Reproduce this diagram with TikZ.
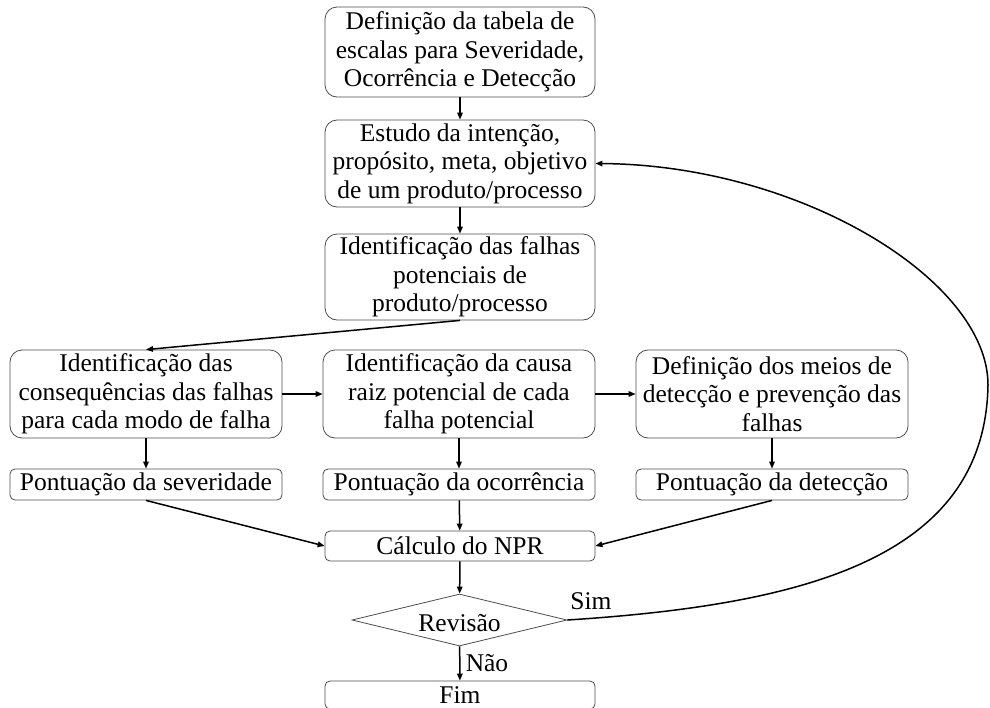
\documentclass[tikz,border=0pt]{standalone}
\usepackage{fontspec}
\setmainfont{Liberation Serif}
\usetikzlibrary{shapes.geometric,arrows.meta}

\tikzset{
  txt/.style={font=\fontsize{25.5}{28.5}\selectfont},
  stepbox/.style={txt, draw=gray!60!black, line width=0.8pt, rounded corners=12pt,
    minimum width=270pt, inner sep=0pt, align=center},
  scorebox/.style={txt, draw=gray!60!black, line width=0.8pt, rounded corners=5pt,
    minimum width=272pt, minimum height=31pt, inner sep=0pt, align=center},
  decision/.style={txt, draw=gray!60!black, line width=0.8pt, diamond, aspect=4.1,
    minimum width=215pt, minimum height=52pt, inner sep=0pt},
  flow/.style={line width=1.5pt, -{Triangle[length=7pt,width=5.5pt]}},
  lbl/.style={txt, inner sep=0pt},
}

\begin{document}
\begin{tikzpicture}[x=1pt,y=-1pt]
\useasboundingbox (0,0) rectangle (990,707);

% main column
\node[stepbox, minimum height=90pt] (b1) at (460,52)
  {Definição da tabela de\\escalas para Severidade,\\Ocorrência e Detecção};
\node[stepbox, minimum height=87pt] (b2) at (460,163.5)
  {Estudo da intenção,\\propósito, meta, objetivo\\de um produto/processo};
\node[stepbox, minimum height=86pt] (b3) at (460,277)
  {Identificação das falhas\\potenciais de\\produto/processo};

% analysis row
\node[stepbox, minimum width=272pt, minimum height=88pt] (bl) at (146,394)
  {Identificação das\\consequências das falhas\\para cada modo de falha};
\node[stepbox, minimum width=272pt, minimum height=88pt] (bm) at (459,394)
  {Identificação da causa\\raiz potencial de cada\\falha potencial};
\node[stepbox, minimum width=272pt, minimum height=88pt] (br) at (772,394)
  {Definição dos meios de\\detecção e prevenção das\\falhas};

% scores
\node[scorebox] (sl) at (146,484.5) {Pontuação da severidade};
\node[scorebox] (sm) at (459,484.5) {Pontuação da ocorrência};
\node[scorebox] (sr) at (772,484.5) {Pontuação da detecção};

% result and decision
\node[scorebox, minimum width=270pt, minimum height=30pt] (calc) at (460,546) {Cálculo do NPR};
\node[decision] (rev) at (459.5,620) {};
\node[lbl] (revtxt) at (459.5,623) {Revisão};
\node[scorebox, minimum width=270pt, minimum height=28pt] (fim) at (460,695) {Fim};

\coordinate (loop) at (988,385);

% connectors
\draw[flow] (b1) -- (b2);
\draw[flow] (b2) -- (b3);
\draw[flow] (b3.south) -- (bl.north);
\draw[flow] (bl) -- (bm);
\draw[flow] (bm) -- (br);
\draw[flow] (bl) -- (sl);
\draw[flow] (bm) -- (sm);
\draw[flow] (br) -- (sr);
\draw[flow] (sl.south) -- (calc.west);
\draw[flow] (sm) -- (calc);
\draw[flow] (sr.south) -- (calc.east);
\draw[flow] (calc) -- (rev);
\draw[flow] (rev) -- (fim);
\draw[flow] (rev.east) .. controls (800,605) and (985,560) .. (loop)
  .. controls (988,280) and (800,165) .. (b2.east);

% branch labels
\node[lbl] (sim) at (591,601) {Sim};
\node[lbl] (nao) at (487,663) {Não};
\end{tikzpicture}
\end{document}
